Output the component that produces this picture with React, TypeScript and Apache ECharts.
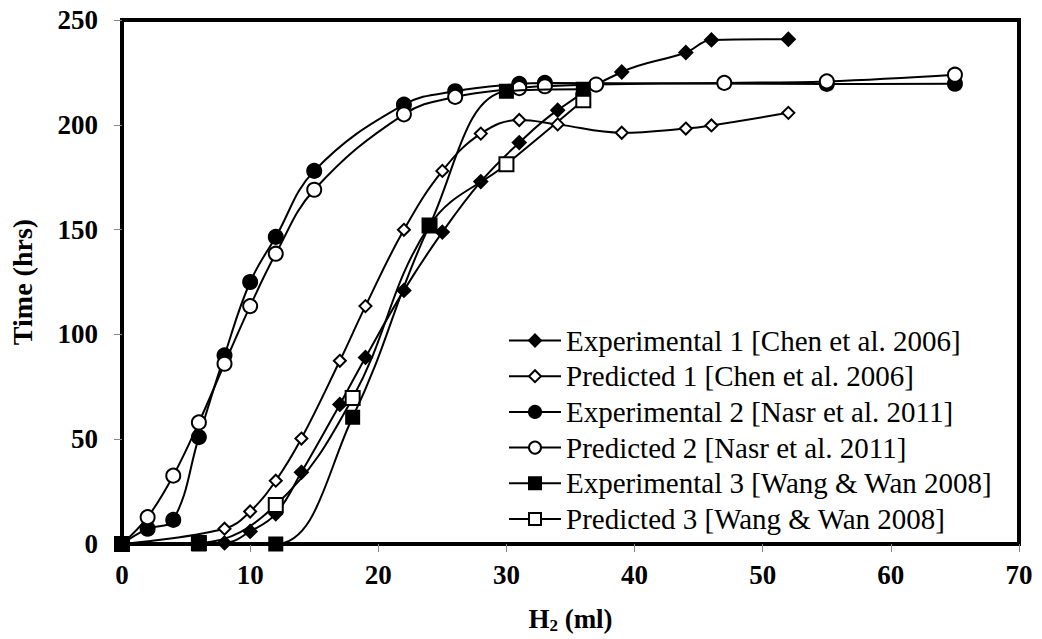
import React, { useEffect, useRef } from "react";
import * as echarts from "echarts";

const xExp1 = [0, 8, 10, 12, 14, 17, 19, 22, 25, 28, 31, 34, 39, 44, 46, 52];
const yExp1 = [0, 0.5, 6, 14.4, 34.2, 66.6, 89, 121, 148.8, 172.9, 191.5, 207, 225.2, 234.5, 240.5, 240.8];
const xPred1 = [0, 8, 10, 12, 14, 17, 19, 22, 25, 28, 31, 34, 39, 44, 46, 52];
const yPred1 = [0, 7.3, 15.5, 30.2, 50.3, 87.4, 113.5, 149.9, 178, 195.8, 202.3, 200.2, 196.2, 198.2, 199.7, 205.7];
const xExp2 = [0, 2, 4, 6, 8, 10, 12, 15, 22, 26, 31, 33, 55, 65];
const yExp2 = [0, 7.3, 11.5, 51, 90, 125, 146.5, 178, 209.6, 216, 219.5, 220, 219.5, 219.6];
const xPred2 = [0, 2, 4, 6, 8, 10, 12, 15, 22, 26, 31, 33, 37, 47, 55, 65];
const yPred2 = [0, 12.8, 32.6, 58, 86, 113.5, 138.5, 169, 205, 213.3, 217.5, 218.4, 219.2, 220, 220.7, 223.9];
const xExp3 = [0, 6, 12, 18, 24, 30, 36];
const yExp3 = [0, 0, 0, 60.5, 152, 216, 217];
const xPred3 = [0, 6, 12, 18, 24, 30, 36];
const yPred3 = [0, 0.5, 18.6, 69.7, 152, 181.2, 211.7];

const seriesNames = [
  "Experimental 1 [Chen et al. 2006]",
  "Predicted 1 [Chen et al. 2006]",
  "Experimental 2 [Nasr et al. 2011]",
  "Predicted 2 [Nasr et al. 2011]",
  "Experimental 3 [Wang & Wan 2008]",
  "Predicted 3 [Wang & Wan 2008]",
];

const pairs = (xs: number[], ys: number[]) => xs.map((x, i) => [x, ys[i]]);

const FONT = "'Liberation Serif', 'Times New Roman', serif";

export default function App() {
  const ref = useRef<HTMLDivElement>(null);
  useEffect(() => {
    if (!ref.current) return;
    const chart = echarts.init(ref.current, undefined, { renderer: "svg" });
    const mk = (
      name: string,
      data: number[][],
      symbol: string,
      size: number,
      filled: boolean,
      z: number
    ) => ({
      name,
      type: "line",
      data,
      smooth: 0.4,
      symbol,
      symbolSize: size,
      showSymbol: true,
      z,
      lineStyle: { color: "#000", width: 2 },
      itemStyle: {
        color: filled ? "#000" : "#fff",
        borderColor: "#000",
        borderWidth: 2,
      },
    });
    chart.setOption({
      animation: false,
      backgroundColor: "#fff",
      grid: {
        left: 120,
        right: 23,
        top: 20,
        bottom: 92,
        show: true,
        borderColor: "#000",
        borderWidth: 4,
        containLabel: false,
      },
      legend: {
        orient: "vertical",
        left: 503,
        top: 321,
        itemWidth: 52,
        itemHeight: 15,
        itemGap: 6.7,
        data: seriesNames,
        textStyle: { fontFamily: FONT, fontSize: 29, color: "#000", lineHeight: 29 },
      },
      xAxis: {
        type: "value",
        min: 0,
        max: 70,
        interval: 10,
        name: "H{sub|2} (ml)",
        nameLocation: "middle",
        nameGap: 60,
        nameTextStyle: {
          fontFamily: FONT,
          fontWeight: "bold",
          fontSize: 27,
          color: "#000",
          rich: {
            sub: { fontFamily: FONT, fontWeight: "bold", fontSize: 17, color: "#000", padding: [13, 0, 0, 0] },
          },
        },
        axisLine: { show: true, onZero: false, lineStyle: { color: "#000", width: 4 } },
        axisTick: { show: true, length: 8, lineStyle: { color: "#888", width: 1 } },
        axisLabel: { fontFamily: FONT, fontWeight: "bold", fontSize: 27, color: "#000", margin: 17 },
        splitLine: { show: false },
      },
      yAxis: {
        type: "value",
        min: 0,
        max: 250,
        interval: 50,
        name: "Time (hrs)",
        nameLocation: "middle",
        nameGap: 86,
        nameTextStyle: { fontFamily: FONT, fontWeight: "bold", fontSize: 28, color: "#000" },
        axisLine: { show: true, lineStyle: { color: "#000", width: 4 } },
        axisTick: { show: true, length: 8, lineStyle: { color: "#888", width: 1 } },
        axisLabel: { fontFamily: FONT, fontWeight: "bold", fontSize: 27, color: "#000", margin: 24 },
        splitLine: { show: false },
      },
      series: [
        mk(seriesNames[0], pairs(xExp1, yExp1), "diamond", 13, true, 2),
        mk(seriesNames[1], pairs(xPred1, yPred1), "diamond", 12, false, 2),
        mk(seriesNames[2], pairs(xExp2, yExp2), "circle", 14, true, 2),
        mk(seriesNames[3], pairs(xPred2, yPred2), "circle", 14, false, 2),
        mk(seriesNames[4], pairs(xExp3, yExp3), "rect", 13, true, 3),
        mk(seriesNames[5], pairs(xPred3, yPred3), "rect", 14, false, 2),
      ],
    });
    return () => chart.dispose();
  }, []);
  return <div ref={ref} style={{ width: 1042, height: 639, position: "absolute", left: 0, top: 0 }} />;
}
